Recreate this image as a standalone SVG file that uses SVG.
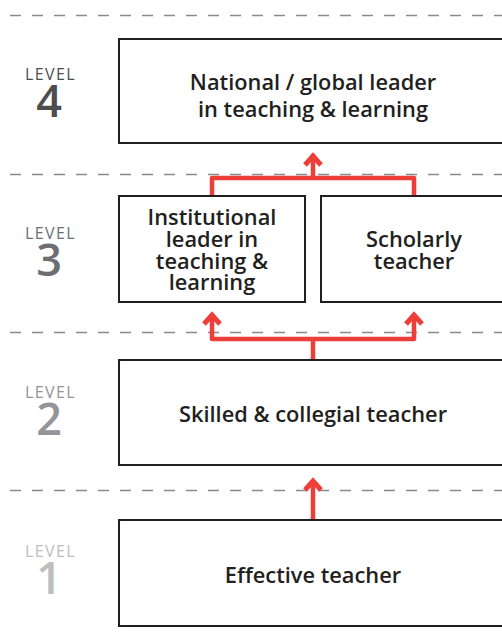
<svg xmlns="http://www.w3.org/2000/svg" width="502" height="643" viewBox="0 0 502 643">
<defs>
<style>
.dash{stroke:#8a8a8a;stroke-width:1.5;stroke-dasharray:11 11;fill:none}
.box{fill:#fff;stroke:#231f20;stroke-width:2}
.t{font-family:"Open Sans","Noto Sans",sans-serif;font-weight:600;font-size:21.8px;fill:#231f20;text-anchor:middle}
.lv{font-family:"Open Sans","Noto Sans",sans-serif;font-weight:400;font-size:16px;letter-spacing:1.4px;text-anchor:middle}
.num{font-family:"Open Sans","Noto Sans",sans-serif;font-weight:600;font-size:45px;text-anchor:middle}
.c{fill:none;stroke:#ee3e3a;stroke-width:4.5;stroke-linejoin:round}
.h{fill:none;stroke:#ee3e3a;stroke-width:5;stroke-linejoin:miter;stroke-linecap:butt}
</style>
</defs>
<g id="guides">
<line class="dash" x1="10" y1="15.5" x2="502" y2="15.5"/>
<line class="dash" x1="10" y1="174.5" x2="502" y2="174.5"/>
<line class="dash" x1="10" y1="332.5" x2="502" y2="332.5"/>
<line class="dash" x1="10" y1="490.5" x2="502" y2="490.5"/>
</g>
<g id="labels">
<g id="level4" fill="#4d4d4f"><text class="lv" x="50.5" y="80">LEVEL</text><text class="num" x="49" y="117">4</text></g>
<g id="level3" fill="#6d6e71"><text class="lv" x="50.5" y="239">LEVEL</text><text class="num" x="49" y="276">3</text></g>
<g id="level2" fill="#939598"><text class="lv" x="50.5" y="398">LEVEL</text><text class="num" x="49" y="435">2</text></g>
<g id="level1" fill="#bcbec0"><text class="lv" x="50.5" y="557">LEVEL</text><text class="num" x="49" y="594">1</text></g>
</g>
<g id="connectors">
<polyline class="c" points="212,195 212,178 414,178 414,195"/>
<line class="c" x1="313" y1="178" x2="313" y2="154"/>
<polyline class="h" points="305,165 313,156 321,165"/>
<polyline class="c" points="212,314 212,339 414,339 414,314"/>
<line class="c" x1="313" y1="339" x2="313" y2="359"/>
<polyline class="h" points="204,324 212,315 220,324"/>
<polyline class="h" points="406,324 414,315 422,324"/>
<line class="c" x1="313" y1="520" x2="313" y2="481"/>
<polyline class="h" points="305,490 313,481 321,490"/>
</g>
<g id="n4"><rect class="box" x="119" y="39" width="390" height="104"/><text class="t" x="313" y="90">National / global leader</text><text class="t" x="313" y="117">in teaching &amp; learning</text></g>
<g id="n3a"><rect class="box" x="119" y="196" width="186" height="106"/><text class="t" x="212" y="225">Institutional</text><text class="t" x="212" y="247">leader in</text><text class="t" x="212" y="269">teaching &amp;</text><text class="t" x="212" y="290">learning</text></g>
<g id="n3b"><rect class="box" x="321" y="196" width="190" height="106"/><text class="t" x="414" y="247">Scholarly</text><text class="t" x="414" y="269">teacher</text></g>
<g id="n2"><rect class="box" x="119" y="360" width="390" height="105"/><text class="t" x="313" y="422">Skilled &amp; collegial teacher</text></g>
<g id="n1"><rect class="box" x="119" y="520" width="390" height="106"/><text class="t" x="313" y="583">Effective teacher</text></g>
</svg>
